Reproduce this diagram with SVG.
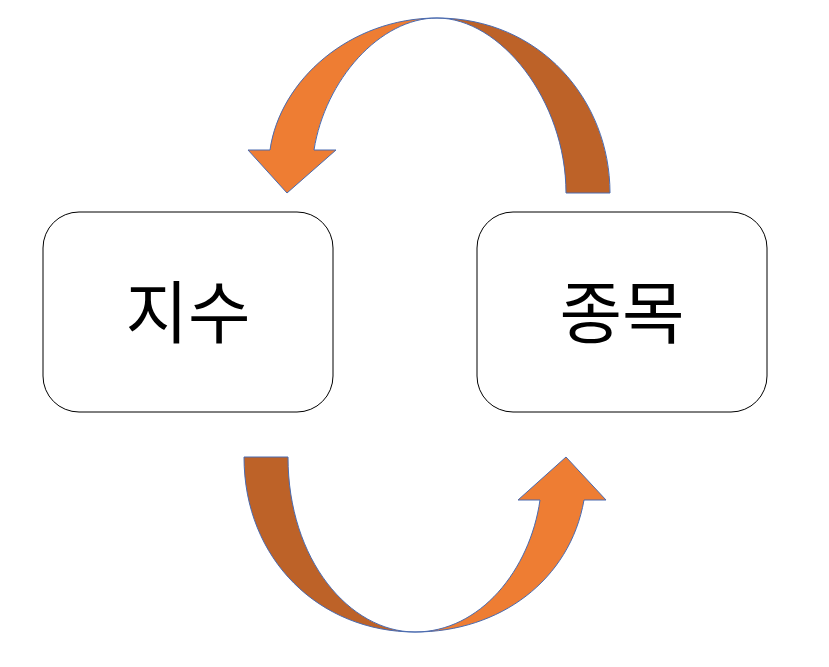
<svg xmlns="http://www.w3.org/2000/svg" width="829" height="667" viewBox="0 0 829 667">
<style>
.box{fill:#fff;stroke:#000;stroke-width:1}
.lbl{font-family:"Noto Sans CJK KR","Noto Sans",sans-serif;font-size:68px;text-anchor:middle;fill:#000}
.dark{fill:#bd6228;stroke:#4a6bb0;stroke-width:1}
.light{fill:#ee7d33;stroke:#4a6bb0;stroke-width:1}
</style>
<rect width="829" height="667" fill="#fff"/>
<g id="connectors">
<path class="dark" d="M566,193 C566,100 500,18 437,18 C540,18 610,100 610,193 Z"/>
<path class="light" d="M437,18 C350,18 280,80 270,150 L248,150 L287,193 L336,150 L314,150 C325,80 380,18 437,18 Z"/>
<path class="dark" d="M244,457 C244,560 320,632 415,632 C350,632 288,560 288,457 Z"/>
<path class="light" d="M415,632 C480,632 530,570 540,500 L518,500 L566,457 L606,500 L584,500 C570,580 500,632 415,632 Z"/>
</g>
<g id="node-jisu"><rect class="box" x="43" y="212" width="290" height="200" rx="36"/><text class="lbl" x="188" y="338">지수</text></g>
<g id="node-jongmok"><rect class="box" x="477" y="212" width="290" height="200" rx="36"/><text class="lbl" x="622" y="338">종목</text></g>
</svg>
